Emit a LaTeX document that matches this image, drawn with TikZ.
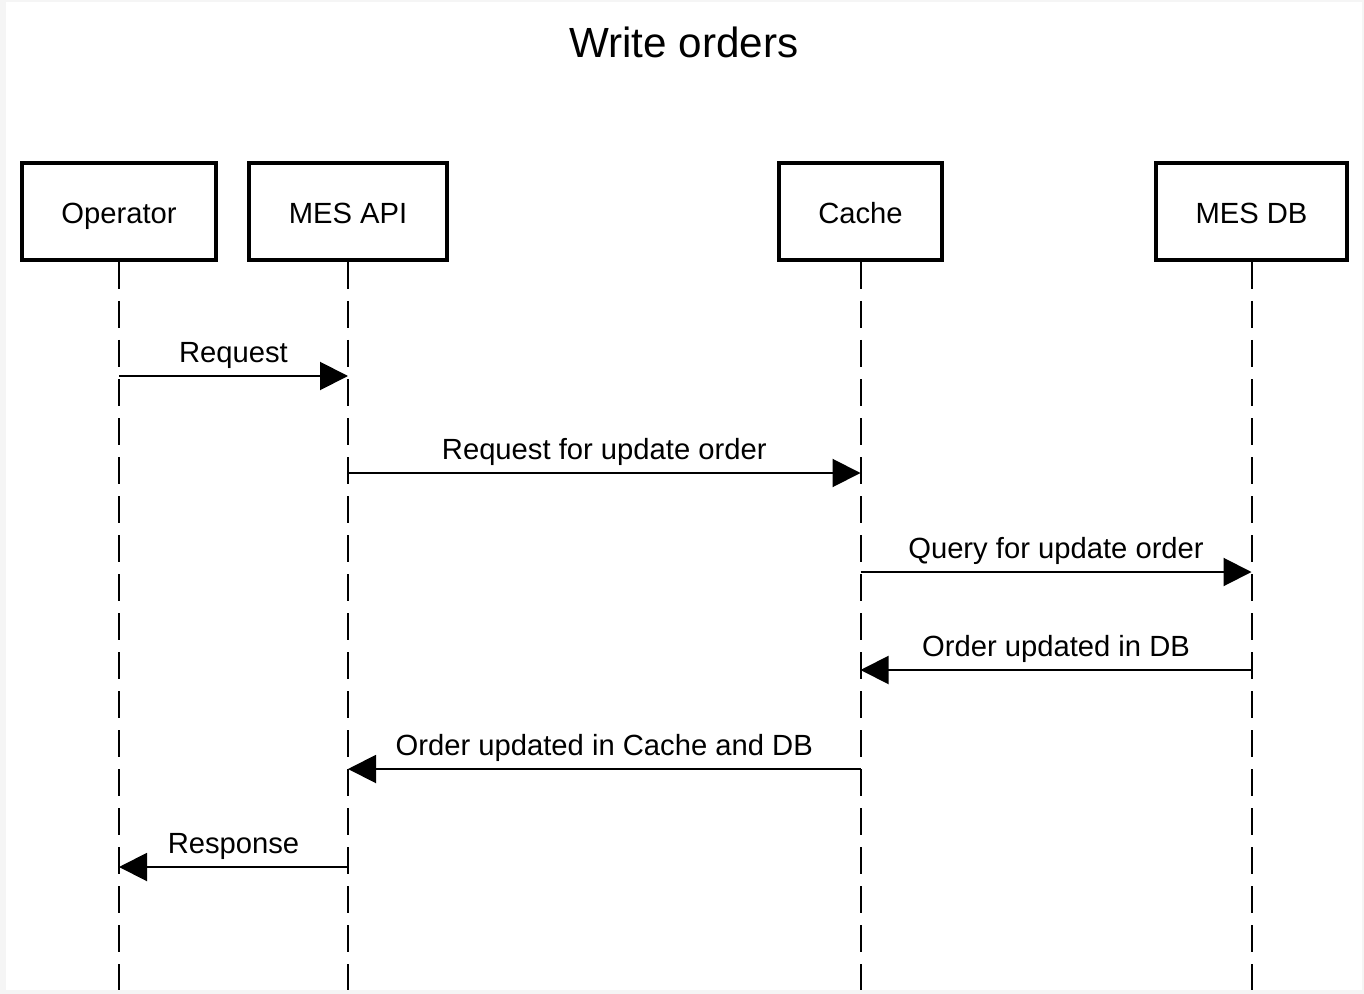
\documentclass[tikz,border=0pt]{standalone}
\usepackage{fontspec}
\setmainfont{Liberation Sans}
\usetikzlibrary{arrows.meta}
\tikzset{
    actor/.style={draw, line width=2pt, minimum height=48.5pt, inner sep=0pt, text height=12pt, text depth=0pt, font=\fontsize{14.6}{17}\selectfont},
    lifeline/.style={line width=1pt, dash pattern=on 13.5pt off 6pt},
    msg/.style={line width=1pt, -{Triangle[length=14pt, width=14pt]}},
    msglabel/.style={above=0pt, font=\fontsize{14.6}{17}\selectfont}
}
\begin{document}
\begin{tikzpicture}[x=0.5pt, y=-0.5pt]
        % Frame
        \fill[black!4] (0,0) rectangle (1364,994);
        \fill[white] (6,2) rectangle (1362,990);
        \useasboundingbox (0,0) rectangle (1364,994);

        % Title
        \node[font=\fontsize{21.1}{25}\selectfont] (title) at (684,42) {Write orders};

        % Actors
        \node[actor, minimum width=97pt] (op) at (119,211.5) {Operator};
        \node[actor, minimum width=99pt] (api) at (348,211.5) {MES API};
        \node[actor, minimum width=81.5pt] (cache) at (860.5,211.5) {Cache};
        \node[actor, minimum width=95.5pt] (db) at (1251.5,211.5) {MES DB};

        % Lifelines
        \foreach \a in {op, api, cache, db}{
            \coordinate (\a-end) at (\a.south |- 0,990);
            \draw [lifeline] (\a.south) -- (\a-end);
        }

        % Message rows
        \foreach \r/\y in {1/376, 2/473, 3/572, 4/670, 5/769, 6/867}{
            \coordinate (row\r) at (0,\y);
        }

        % Messages
        \draw [msg] (op |- row1) -- node[msglabel] {Request} (api |- row1);
        \draw [msg] (api |- row2) -- node[msglabel] {Request for update order} (cache |- row2);
        \draw [msg] (cache |- row3) -- node[msglabel] {Query for update order} (db |- row3);
        \draw [msg] (db |- row4) -- node[msglabel] {Order updated in DB} (cache |- row4);
        \draw [msg] (cache |- row5) -- node[msglabel] {Order updated in Cache and DB} (api |- row5);
        \draw [msg] (api |- row6) -- node[msglabel] {Response} (op |- row6);
    \end{tikzpicture}
\end{document}
